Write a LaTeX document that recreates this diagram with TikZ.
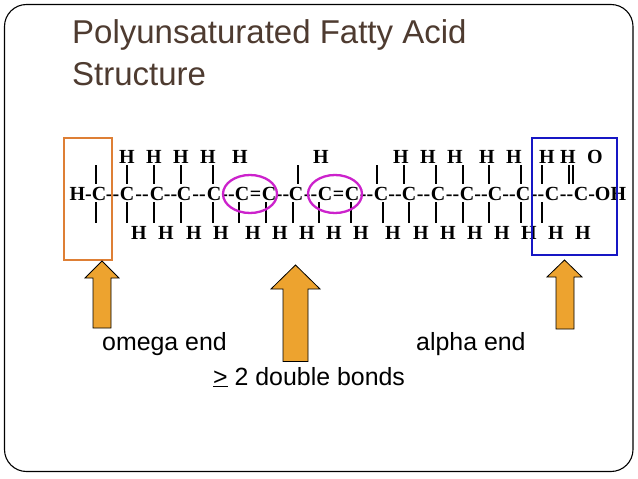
\documentclass[tikz,border=0pt]{standalone}
\usepackage{fontspec}
\setmainfont{Liberation Sans}
\newfontfamily\chemfont{Liberation Serif}[BoldFont={Liberation Serif Bold}]
\definecolor{titlebrown}{HTML}{4E3B30}
\definecolor{arrowfill}{HTML}{EDA32F}
\definecolor{omegabox}{HTML}{DE7F35}
\definecolor{alphabox}{HTML}{1616C4}
\definecolor{dbring}{HTML}{CC22CC}
\tikzset{
  atom/.style={inner sep=0pt,anchor=base,text=black,font=\chemfont\bfseries\fontsize{20}{20}\selectfont},
  bond/.style={draw=black,line width=1.1pt},
  titletext/.style={inner sep=0pt,anchor=base west,text=titlebrown,font=\fontsize{33}{33}\selectfont},
  labeltext/.style={inner sep=0pt,anchor=base west,text=black,font=\fontsize{24.9}{24.9}\selectfont},
  bigarrow/.style={draw=black,line width=0.8pt,fill=arrowfill,line join=miter},
  endbox/.style={line width=2.6pt,fill=none},
  dbellipse/.style={draw=dbring,line width=2.3pt,ellipse,minimum width=54pt,minimum height=38pt,inner sep=0pt}
}
\usetikzlibrary{shapes.geometric}
\begin{document}
\begin{tikzpicture}[x=1pt,y=-1pt]
\useasboundingbox (0,0) rectangle (638,479);
\fill[white] (0,0) rectangle (638,479);
\draw[black,line width=1.1pt,rounded corners=22pt] (4.5,4.5) rectangle (633,471.5);
\node[titletext] (title1) at (72,43) {Polyunsaturated Fatty Acid};
\node[titletext] (title2) at (72,85) {Structure};
% upper hydrogens
\foreach \x [count=\i] in {127,154,181,208,240,321,401,428,455,487,514,547,568}
  \node[atom] (ht\i) at (\x,163) {H};
\node[atom] (otop) at (595,163) {O};
% chain
\node[atom] (hl) at (88,200) {H-C};
\foreach \x [count=\i] in {127,157,184,214,242,269,296,325,352,381,409,438,467,495,523,552}
  \node[atom] (c\i) at (\x,200) {C};
\node[atom] (oh) at (600,200) {C-OH};
\foreach \x in {112.5,142,170.5,199,228,282.5,310.5,366.5,395,423.5,452.5,481,509,537.5}
  \node[atom] at (\x,200) {-{}-};
\node[atom] at (255.5,200) {=};
\node[atom] at (338.5,200) {=};
\node[atom] at (566.5,200) {--};
% lower hydrogens
\foreach \x [count=\i] in {139,166,194,221,253,280,307,334,361,393,421,448,475,502,529,556,583}
  \node[atom] (hb\i) at (\x,239) {H};
% bonds
\foreach \x in {96,127,154,181,213,298,377,404,436,463,489,521,542,569,573}
  \draw[bond] (\x,165) -- (\x,184);
\foreach \x in {96,127,154,181,213,239,266,293,319,351,383,409,436,463,489,521,542}
  \draw[bond] (\x,202) -- (\x,223);
% end boxes
\draw[endbox,draw=omegabox] (64,138) rectangle (112,260);
\draw[endbox,draw=alphabox] (532,138) rectangle (617,255);
% double bond rings
\node[dbellipse] (ring1) at (250,194) {};
\node[dbellipse] (ring2) at (335,194) {};
% arrows
\draw[bigarrow] (102,261) -- (119,278) -- (111,278) -- (111,328) -- (93,328) -- (93,278) -- (85,278) -- cycle;
\draw[bigarrow] (295.5,265) -- (320,289) -- (308,289) -- (308,361.5) -- (283,361.5) -- (283,289) -- (271,289) -- cycle;
\draw[bigarrow] (564.5,260) -- (582,277) -- (574,277) -- (574,329) -- (556,329) -- (556,277) -- (547,277) -- cycle;
% labels
\node[labeltext] (omega) at (102,350) {omega end};
\node[labeltext] (alpha) at (416,350) {alpha end};
\node[labeltext] (bonds) at (213,385) {\underline{>} 2 double bonds};
\end{tikzpicture}
\end{document}
